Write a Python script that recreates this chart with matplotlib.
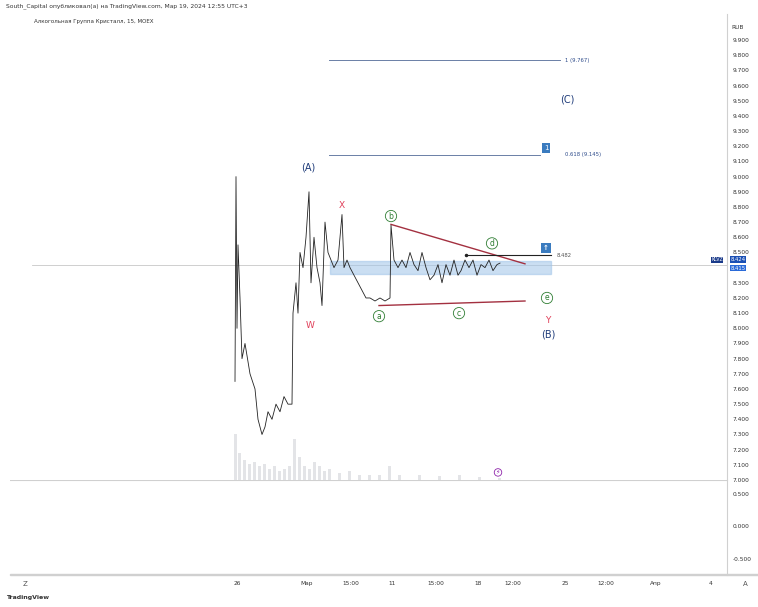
import matplotlib
matplotlib.use("Agg")
import matplotlib.pyplot as plt
from matplotlib.patches import Rectangle

W, H = 758, 607
plt.rcParams['font.family'] = ['DejaVu Sans']

# price path (x position on chart, price)
px = [235,236,237,238,240,242,245,250,255,258,262,265,268,272,276,280,284,288,292,293,296,298,300,303,306,309,311,314,317,320,322,325,328,331,334,338,342,344,347,350,354,358,362,366,370,375,380,385,390,391,394,398,402,406,410,414,418,422,426,430,434,438,442,446,450,454,458,461,465,469,473,477,481,485,489,493,497,500]
pp = [7.65,9.0,8.0,8.55,8.2,7.8,7.9,7.7,7.6,7.4,7.3,7.35,7.45,7.4,7.5,7.45,7.55,7.5,7.5,8.1,8.3,8.1,8.5,8.4,8.6,8.9,8.3,8.6,8.4,8.3,8.15,8.7,8.5,8.45,8.4,8.45,8.75,8.4,8.45,8.4,8.35,8.3,8.25,8.2,8.2,8.18,8.2,8.18,8.2,8.68,8.45,8.4,8.45,8.4,8.5,8.42,8.38,8.5,8.4,8.32,8.35,8.42,8.3,8.42,8.35,8.45,8.35,8.38,8.45,8.4,8.45,8.35,8.42,8.4,8.45,8.38,8.42,8.43]
# volume bars (x, relative height)
vx = [236,240,245,250,255,260,265,270,275,280,285,290,295,300,305,310,315,320,325,330,340,350,360,370,380,390,400,420,440,460,480,500]
vh = [1.0,0.6,0.45,0.35,0.4,0.3,0.35,0.25,0.3,0.2,0.25,0.3,0.9,0.5,0.3,0.25,0.4,0.3,0.2,0.25,0.15,0.2,0.12,0.12,0.12,0.3,0.1,0.1,0.08,0.1,0.06,0.05]
yticks = [round(7.0 + 0.1*i, 1) for i in range(30)]
xlabels = ["26","Мар","15:00","11","15:00","18","12:00","25","12:00","Апр","4"]
xlabpos = [237,307,351,392,436,478,513,565,606,656,711]

fig = plt.figure(figsize=(W/100, H/100), dpi=100)
def ax_px(l, t, r, b):
    return fig.add_axes([l/W, 1-b/H, (r-l)/W, (b-t)/H])

ax = ax_px(10, 14, 727, 480)
ax.set_xlim(10, 727); ax.set_ylim(7.0, 10.072)
for s in ['top','left','bottom']:
    ax.spines[s].set_visible(False)
ax.spines['right'].set_color('#d0d0d0')
ax.yaxis.tick_right()
ax.set_yticks(yticks)
ax.set_yticklabels(["" if abs(v-8.4) < 1e-6 else f"{v:.3f}" for v in yticks], fontsize=4.2, color='#333')
ax.tick_params(axis='y', length=0, pad=4)
ax.set_xticks([])

for x, h in zip(vx, vh):
    ax.bar(x, h*0.3, bottom=7.0, width=3, color='#d8d9dd', alpha=0.7, zorder=1)

ax.plot([32, 727], [8.415, 8.415], color='#c8c8c8', lw=0.6, zorder=1)
ax.add_patch(Rectangle((330, 8.36), 221, 0.085, color='#9fc4e8', alpha=0.55, zorder=2))
ax.plot(px, pp, color='#222', lw=0.6, zorder=3)

ax.plot([329, 560], [9.767, 9.767], color='#6a7fa6', lw=0.7)
ax.text(565, 9.767, "1 (9.767)", fontsize=3.8, color='#2c4a8a', va='center')
ax.plot([329, 540], [9.145, 9.145], color='#6a7fa6', lw=0.7)
ax.text(565, 9.145, "0.618 (9.145)", fontsize=3.8, color='#2c4a8a', va='center')
ax.text(546, 9.19, "1", fontsize=5, color='white', ha='center', va='center',
        bbox=dict(boxstyle='square,pad=0.3', fc='#3a7bbf', ec='none'))
ax.text(546, 8.53, "↑", fontsize=5, color='white', ha='center', va='center', weight='bold',
        bbox=dict(boxstyle='square,pad=0.25', fc='#3a7bbf', ec='none'))

ax.plot([391, 525], [8.685, 8.425], color='#a33040', lw=1.0)
ax.plot([379, 525], [8.15, 8.18], color='#a33040', lw=1.0)
ax.plot([466, 551], [8.482, 8.482], color='#222', lw=0.8)
ax.plot([466], [8.482], 'o', color='#222', ms=1.5)
ax.text(557, 8.482, "8.482", fontsize=3.8, color='#555', va='center')

for t, x, y in [("(A)", 308, 9.06), ("(B)", 548, 7.96), ("(C)", 567, 9.51)]:
    ax.text(x, y, t, fontsize=7, color='#1f3c7a', ha='center', va='center')
for t, x, y in [("X", 342, 8.81), ("W", 310, 8.02), ("Y", 548, 8.05)]:
    ax.text(x, y, t, fontsize=6.5, color='#e0405a', ha='center', va='center')
for t, x, y in [("b", 391, 8.74), ("d", 492, 8.56), ("a", 379, 8.08), ("c", 459, 8.10), ("e", 547, 8.20)]:
    ax.text(x, y, t, fontsize=5.5, color='#2e7d32', ha='center', va='center',
            bbox=dict(boxstyle='circle,pad=0.15', fc='white', ec='#2e7d32', lw=0.6))
ax.text(498, 7.05, "⚡", fontsize=4.5, color='#8e24aa', ha='center', va='center',
        bbox=dict(boxstyle='circle,pad=0.2', fc='white', ec='#8e24aa', lw=0.6))
ax.text(731, 9.98, "RUB", fontsize=4.2, color='#333', va='center', clip_on=False)
ax.text(738, 8.453, "8.424", fontsize=3.8, color='white', ha='center', va='center', clip_on=False,
        bbox=dict(boxstyle='square,pad=0.12', fc='#1a4fb4', ec='none'))
ax.text(738, 8.396, "8.415", fontsize=3.8, color='white', ha='center', va='center', clip_on=False,
        bbox=dict(boxstyle='square,pad=0.12', fc='#2a6ad8', ec='none'))
ax.text(717, 8.453, "KLVZ", fontsize=3.4, color='white', ha='center', va='center', clip_on=False,
        bbox=dict(boxstyle='square,pad=0.12', fc='#1a3a8a', ec='none'))

ax2 = ax_px(10, 480, 727, 575)
ax2.set_xlim(10, 727); ax2.set_ylim(-0.746, 0.715)
for s in ['top','left','bottom']:
    ax2.spines[s].set_visible(False)
ax2.spines['right'].set_color('#d0d0d0')
ax2.axhline(0.715, color='#d0d0d0', lw=0.8)
ax2.yaxis.tick_right()
ax2.set_yticks([0.5, 0.0, -0.5])
ax2.set_yticklabels(["0.500", "0.000", "-0.500"], fontsize=4.2, color='#333')
ax2.tick_params(axis='y', length=0, pad=4)
ax2.set_xticks([])

ax3 = ax_px(10, 575, 727, 592)
ax3.set_xlim(10, 727); ax3.set_ylim(0, 1)
ax3.axis('off')
for lab, x in zip(xlabels, xlabpos):
    ax3.text(x, 0.5, lab, fontsize=4.2, color='#333', ha='center', va='center')

fig.text(6/W, 1-6/H, "South_Capital опубликовал(а) на TradingView.com, Мар 19, 2024 12:55 UTC+3",
         fontsize=4.3, color='#333', va='center')
fig.text(34/W, 1-21/H, "Алкогольная Группа Кристалл, 15, MOEX", fontsize=4.0, color='#333', va='center')
fig.text(25/W, 1-584/H, "Z", fontsize=5, color='#555', ha='center', va='center')
fig.text(745/W, 1-584/H, "A", fontsize=5, color='#555', ha='center', va='center')
fig.text(6/W, 1-598/H, "TradingView", fontsize=4.5, color='#333', va='center', weight='bold')
fig.add_artist(Rectangle((10/W, 1-575/H), 748/W, 0.001, color='#d0d0d0', transform=fig.transFigure))
fig.savefig("out.png", dpi=100)
